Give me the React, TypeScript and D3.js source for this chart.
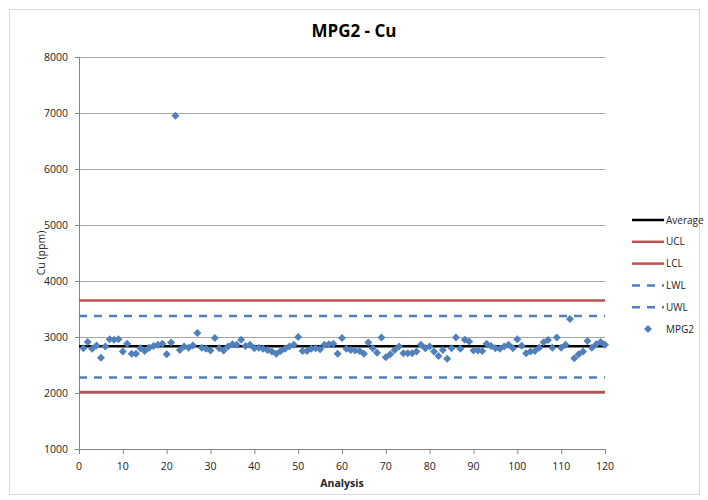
import React from "react";
import * as d3 from "d3";

const title = "MPG2 - Cu";
const xTicks = [0, 10, 20, 30, 40, 50, 60, 70, 80, 90, 100, 110, 120];
const yTicks = [1000, 2000, 3000, 4000, 5000, 6000, 7000, 8000];

const mpg2 = [
  2800, 2910, 2790, 2850, 2630, 2830, 2960, 2950, 2960, 2740,
  2880, 2700, 2700, 2800, 2750, 2810, 2840, 2860, 2880, 2690,
  2900, 6950, 2770, 2830, 2810, 2850, 3070, 2810, 2790, 2760,
  2980, 2800, 2760, 2830, 2870, 2860, 2950, 2840, 2860, 2800,
  2810, 2790, 2770, 2740, 2700, 2750, 2790, 2830, 2860, 3000,
  2750, 2750, 2790, 2800, 2780, 2860, 2870, 2880, 2700, 2980,
  2790, 2770, 2760, 2750, 2700, 2900, 2800, 2720, 2990, 2640,
  2690, 2770, 2830, 2710, 2710, 2710, 2740, 2860, 2800, 2830,
  2740, 2660, 2770, 2610, 2800, 2990, 2790, 2950, 2920, 2760,
  2760, 2750, 2880, 2840, 2800, 2790, 2830, 2860, 2800, 2960,
  2845, 2708, 2740, 2750, 2810, 2905, 2946, 2810, 2990, 2810,
  2860, 3320, 2620, 2690, 2740, 2930, 2810, 2870, 2910, 2860,
];

const average = 2835;
const ucl = 3650;
const lcl = 2020;
const uwl = 3375;
const lwl = 2275;

const BLUE = "#4f81bd";
const RED = "#c0504d";
const FONT = "'Open Sans', 'Liberation Sans', sans-serif";

const legendItems = [
  { label: "Average", type: "line", color: "#000000", dash: "" },
  { label: "UCL", type: "line", color: RED, dash: "" },
  { label: "LCL", type: "line", color: RED, dash: "" },
  { label: "LWL", type: "line", color: BLUE, dash: "8,7" },
  { label: "UWL", type: "line", color: BLUE, dash: "8,7" },
  { label: "MPG2", type: "marker", color: BLUE, dash: "" },
];

export default function App() {
  const x = d3.scaleLinear().domain([0, 120]).range([79, 605]);
  const y = d3.scaleLinear().domain([1000, 8000]).range([449, 57]);
  const diamond = d3.symbol().type(d3.symbolSquare).size(32)();
  const x0 = x(0);
  const x1 = x(120);

  const refLines = [
    { v: lcl, color: RED, dash: "", w: 2.5 },
    { v: ucl, color: RED, dash: "", w: 2.5 },
    { v: lwl, color: BLUE, dash: "8,7", w: 2.5 },
    { v: uwl, color: BLUE, dash: "8,7", w: 2.5 },
  ];

  return (
    <svg
      width={708}
      height={500}
      style={{ position: "absolute", left: 0, top: 0, background: "#fff" }}
      fontFamily={FONT}
    >
      <rect x={9.5} y={9.5} width={690} height={485} fill="#fff" stroke="#d9d9d9" />
      <text x={354} y={37} textAnchor="middle" fontSize={17} fontWeight="bold" fill="#000">
        {title}
      </text>

      {/* gridlines */}
      {yTicks.filter((t) => t > 1000).map((t) => (
        <line key={t} x1={x0} x2={x1} y1={y(t) + 0.5} y2={y(t) + 0.5} stroke="#a6a6a6" strokeWidth={1} />
      ))}

      {/* axes */}
      <line x1={x0 + 0.5} x2={x0 + 0.5} y1={y(8000)} y2={y(1000)} stroke="#868686" />
      <line x1={x0} x2={x1} y1={y(1000) + 0.5} y2={y(1000) + 0.5} stroke="#868686" />
      {yTicks.map((t) => (
        <g key={t}>
          <line x1={x0 - 4} x2={x0} y1={y(t) + 0.5} y2={y(t) + 0.5} stroke="#868686" />
          <text x={68} y={y(t) + 4} textAnchor="end" fontSize={10.5} fill="#222">
            {t}
          </text>
        </g>
      ))}
      {xTicks.map((t) => (
        <g key={t}>
          <line x1={x(t) + 0.5} x2={x(t) + 0.5} y1={y(1000)} y2={y(1000) + 5} stroke="#868686" />
          <text x={x(t)} y={470} textAnchor="middle" fontSize={10.5} fill="#222">
            {t}
          </text>
        </g>
      ))}
      <text x={342} y={487} textAnchor="middle" fontSize={10.5} fontWeight="bold" fill="#222">
        Analysis
      </text>
      <text
        transform={`translate(45, ${253}) rotate(-90)`}
        textAnchor="middle"
        fontSize={10.5}
        fill="#222"
      >
        Cu (ppm)
      </text>

      {/* reference lines */}
      {refLines.map((r, i) => (
        <line key={i} x1={x0} x2={x1} y1={y(r.v)} y2={y(r.v)} stroke={r.color} strokeWidth={r.w} strokeDasharray={r.dash || undefined} />
      ))}
      <line x1={x0} x2={x1} y1={y(average)} y2={y(average)} stroke="#000" strokeWidth={2.5} />

      {/* points */}
      {mpg2.map((v, i) => (
        <path
          key={i}
          d={diamond || ""}
          transform={`translate(${x(i + 1)},${y(v)}) rotate(45)`}
          fill={BLUE}
        />
      ))}

      {/* legend */}
      {legendItems.map((item, i) => {
        const ly = 220 + i * 21.8;
        return (
          <g key={item.label}>
            {item.type === "line" ? (
              <line x1={632} x2={664} y1={ly} y2={ly} stroke={item.color} strokeWidth={2.5} strokeDasharray={item.dash || undefined} />
            ) : (
              <path d={diamond || ""} transform={`translate(648,${ly}) rotate(45)`} fill={item.color} />
            )}
            <text x={666} y={ly + 3.5} fontSize={10} fill="#222">
              {item.label}
            </text>
          </g>
        );
      })}
    </svg>
  );
}
